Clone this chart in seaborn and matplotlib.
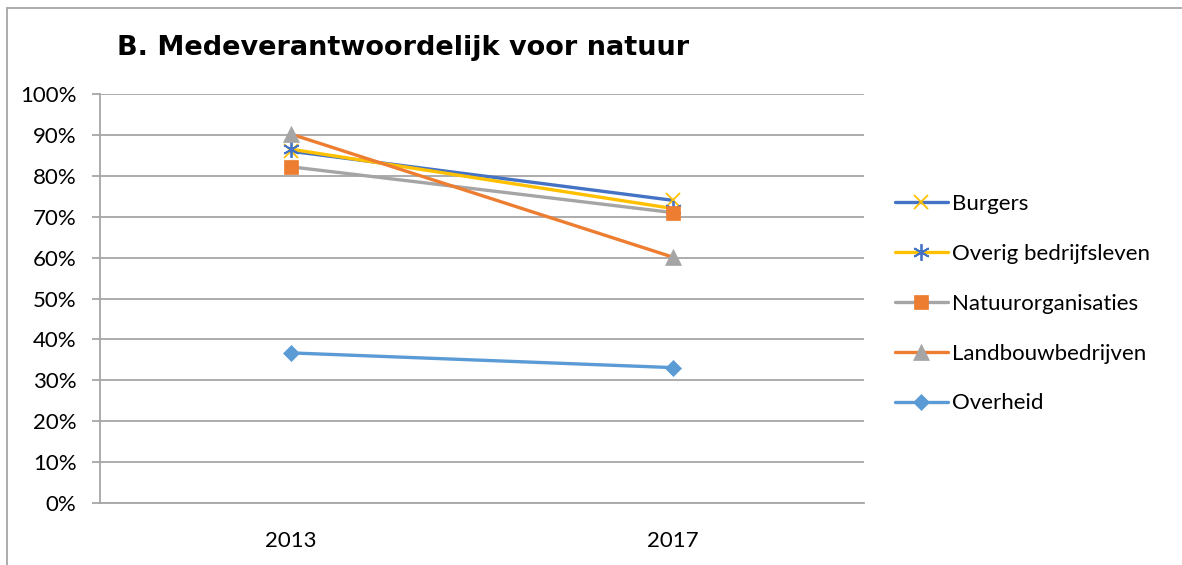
import numpy as np
import pandas as pd
import matplotlib
matplotlib.use("Agg")
import matplotlib.pyplot as plt
from matplotlib.ticker import PercentFormatter, FixedLocator
from matplotlib.lines import Line2D
import seaborn as sns

# data
years = ["2013", "2017"]
burgers = [0.86, 0.74]
overig = [0.865, 0.72]
natuur = [0.822, 0.71]
landbouw = [0.902, 0.601]
overheid = [0.367, 0.331]

series_names = ["Burgers", "Overig bedrijfsleven", "Natuurorganisaties",
                "Landbouwbedrijven", "Overheid"]
series_values = [burgers, overig, natuur, landbouw, overheid]

# line colour, marker, marker colour, marker size
styles = {
    "Burgers": ("#4472C4", "x", "#FFC000", 10),
    "Overig bedrijfsleven": ("#FFC000", (6, 2, 0), "#4472C4", 12),
    "Natuurorganisaties": ("#A5A5A5", "s", "#ED7D31", 10),
    "Landbouwbedrijven": ("#ED7D31", "^", "#A5A5A5", 11),
    "Overheid": ("#5B9BD5", "D", "#5B9BD5", 8),
}

rows = []
for name, vals in zip(series_names, series_values):
    for y, v in zip(years, vals):
        rows.append({"jaar": y, "aandeel": v, "groep": name})
df = pd.DataFrame(rows)

sns.set_style("white")
plt.rcParams["font.family"] = ["Lato", "DejaVu Sans"]
plt.rcParams["text.color"] = "black"

fig = plt.figure(figsize=(11.82, 5.65), dpi=100)
ax = fig.add_axes([100 / 1182, 1 - 503 / 565, 764 / 1182, 409 / 565])

grid_c = "#A6A6A6"
lw = 2.4


def mew(mk):
    return 1.3 if mk == "x" or isinstance(mk, tuple) else 0.5


for name in series_names:
    lc, mk, mc, ms = styles[name]
    sub = df[df["groep"] == name]
    sns.lineplot(data=sub, x="jaar", y="aandeel", ax=ax, color=lc, linewidth=lw,
                 marker=mk, markersize=ms, markerfacecolor=mc, markeredgecolor=mc,
                 markeredgewidth=mew(mk), label=name, sort=False)

ax.set_ylim(0, 1)
ax.set_xlim(-0.5, 1.5)
ax.yaxis.set_major_locator(FixedLocator(np.arange(0, 1.01, 0.1)))
ax.yaxis.set_major_formatter(PercentFormatter(1.0, decimals=0))
ax.grid(axis="y", color=grid_c, linewidth=1.3)
ax.grid(axis="x", visible=False)
ax.set_axisbelow(True)
ax.set_xlabel("")
ax.set_ylabel("")

for s in ["top", "right"]:
    ax.spines[s].set_visible(False)
ax.spines["left"].set_color(grid_c)
ax.spines["bottom"].set_color(grid_c)
ax.spines["left"].set_linewidth(1.3)
ax.spines["bottom"].set_linewidth(1.3)

ax.set_xticks([0, 1])
ax.set_xticklabels(years)
ax.set_xticks([-0.5, 0.5, 1.5], minor=True)
ax.tick_params(axis="x", which="major", length=0, pad=20, labelsize=16, labelcolor="black")
ax.tick_params(axis="x", which="minor", length=8, width=1.3, color=grid_c, direction="out")
ax.tick_params(axis="y", which="major", length=6, width=1.3, color=grid_c, direction="out",
               left=True, pad=11, labelsize=16, labelcolor="black")

# legend with line colour and separately coloured markers
handles = []
for name in series_names:
    lc, mk, mc, ms = styles[name]
    handles.append(Line2D([0], [0], color=lc, linewidth=lw, marker=mk, markersize=ms,
                          markerfacecolor=mc, markeredgecolor=mc, markeredgewidth=mew(mk)))
ax.legend(handles, series_names, loc="center left", bbox_to_anchor=(1.04, 0.487),
          frameon=False, fontsize=16, handlelength=2.4, handletextpad=0.2,
          labelspacing=1.34, borderaxespad=0, borderpad=0)

fig.text(117 / 1182, 1 - 48 / 565, "B. Medeverantwoordelijk voor natuur",
         fontsize=19.5, fontweight="bold", family="DejaVu Sans", va="center", ha="left",
         color="black")

# chart area border (left and top edge visible)
fig.add_artist(Line2D([7 / 1182, 7 / 1182], [0, 1 - 8 / 565], color=grid_c, linewidth=1.3,
                      transform=fig.transFigure))
fig.add_artist(Line2D([7 / 1182, 1], [1 - 8 / 565, 1 - 8 / 565], color=grid_c, linewidth=1.3,
                      transform=fig.transFigure))

fig.savefig("out.png", dpi=100)
